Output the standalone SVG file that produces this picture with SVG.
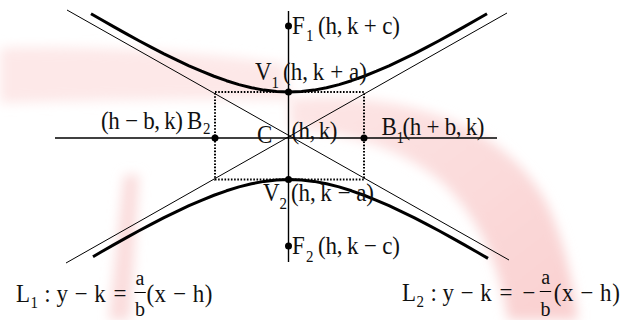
<svg xmlns="http://www.w3.org/2000/svg" width="633" height="320" viewBox="0 0 633 320">
  <defs>
    <filter id="soft" filterUnits="userSpaceOnUse" x="-50" y="-50" width="733" height="420">
      <feGaussianBlur stdDeviation="6"/>
    </filter>
    <linearGradient id="pinkGrad" x1="0" y1="0" x2="1" y2="1">
      <stop offset="0" stop-color="#fde6e6"/>
      <stop offset="1" stop-color="#f9d0d0"/>
    </linearGradient>
    <style>
      .thin { stroke: #000; stroke-width: 1; fill: none; }
      .axis { stroke: #000; stroke-width: 1.4; fill: none; }
      .curve { stroke: #000; stroke-width: 3; fill: none; stroke-linejoin: round; stroke-linecap: butt; }
      .box { stroke: #000; stroke-width: 2; fill: none; stroke-dasharray: 1.6 1.6; }
      .dot { fill: #000; }
      text { font-family: "Liberation Serif", "Times New Roman", serif; font-size: 23px; fill: #111; }
      .sub { font-size: 15px; }
      .frac { font-size: 20px; }
    </style>
  </defs>

  <rect width="633" height="320" fill="#ffffff"/>

  <!-- faint background watermark -->
  <g id="watermark" filter="url(#soft)">
    <path d="M0,48 C100,46 200,52 285,64 L290,100 C200,98 100,100 0,103 Z" fill="#fde8e8"/>
    <path d="M290,98 C400,92 500,120 545,200 C565,240 574,290 578,320 L508,320 C500,270 484,224 444,184 C404,148 345,132 290,128 Z" fill="url(#pinkGrad)"/>
    <path d="M124,175 L139,175 L130,320 L109,320 Z" fill="#fadcdc"/>
  </g>

  <g id="connectors">
    <line id="x-axis" class="axis" x1="55" y1="138" x2="497" y2="138"/>
    <line id="y-axis" class="axis" x1="288.5" y1="11" x2="288.5" y2="262"/>
    <line id="asymptote-L1" class="thin" x1="66" y1="263" x2="507" y2="13"/>
    <line id="asymptote-L2" class="thin" x1="67" y1="10" x2="509" y2="260"/>
    <rect id="central-box" class="box" x="215" y="92" width="149" height="87.5"/>
  </g>

  <g id="upper-branch">
    <path class="curve" d="M91,13.7 L101.5,19.8 L114,26.9 L126.5,33.9 L139,40.7 L151.5,47.35 L164,53.8 L176.5,59.9 L189,65.8 L201.5,71.2 L214,76.25 L226.5,80.7 L239,84.6 L251.5,87.75 L264,90.1 L276.5,91.5 L289,92 L301.5,91.5 L314,90.1 L326.5,87.75 L339,84.6 L351.5,80.7 L364,76.25 L376.5,71.2 L389,65.8 L401.5,59.9 L414,53.8 L426.5,47.35 L439,40.7 L451.5,33.9 L464,26.9 L476.5,19.8 L487,13.7"/>
  </g>
  <g id="lower-branch">
    <path class="curve" d="M93,256.7 L101.5,251.7 L114,244.6 L126.5,237.6 L139,230.8 L151.5,224.15 L164,217.7 L176.5,211.6 L189,205.7 L201.5,200.3 L214,195.25 L226.5,190.8 L239,186.9 L251.5,183.75 L264,181.4 L276.5,180 L289,179.5 L301.5,180 L314,181.4 L326.5,183.75 L339,186.9 L351.5,190.8 L364,195.25 L376.5,200.3 L389,205.7 L401.5,211.6 L414,217.7 L426.5,224.15 L439,230.8 L451.5,237.6 L464,244.6 L476.5,251.7 L488,258.4"/>
  </g>

  <g id="F1">
    <circle class="dot" cx="288.5" cy="26" r="3.5"/>
    <text transform="translate(292,34) scale(1,1.08)">F<tspan class="sub" x="14" y="6.5">1</tspan><tspan x="26" y="0" textLength="82" lengthAdjust="spacing">(h,&#8201;k + c)</tspan></text>
  </g>
  <g id="V1">
    <circle class="dot" cx="288.5" cy="92" r="3.5"/>
    <text transform="translate(255,79.5) scale(1,1.08)">V<tspan class="sub" x="16.5" y="7.5">1</tspan><tspan x="28" y="0" textLength="84" lengthAdjust="spacing">(h,&#8201;k + a)</tspan></text>
  </g>
  <g id="B2">
    <circle class="dot" cx="215" cy="138" r="3.5"/>
    <text transform="translate(101,128.5) scale(1,1.08)"><tspan textLength="82" lengthAdjust="spacing">(h − b,&#8201;k)</tspan><tspan x="86" y="0">B</tspan><tspan class="sub" x="102" y="5.5">2</tspan></text>
  </g>
  <g id="C">
    <text transform="translate(257,143) scale(1,1.08)">C</text>
    <text transform="translate(291.5,139) scale(1,1.08)" textLength="46" lengthAdjust="spacing">(h,&#8201;k)</text>
  </g>
  <g id="B1">
    <circle class="dot" cx="364" cy="138" r="3.5"/>
    <text transform="translate(381.5,135) scale(1,1.08)">B<tspan class="sub" x="15" y="7">1</tspan><tspan x="21" y="0" textLength="82" lengthAdjust="spacing">(h + b,&#8201;k)</tspan></text>
  </g>
  <g id="V2">
    <circle class="dot" cx="288.5" cy="179.5" r="3.5"/>
    <text transform="translate(263,201) scale(1,1.08)">V<tspan class="sub" x="16.5" y="7.5">2</tspan><tspan x="28" y="0" textLength="83" lengthAdjust="spacing">(h,&#8201;k − a)</tspan></text>
  </g>
  <g id="F2">
    <circle class="dot" cx="288.5" cy="246" r="3.5"/>
    <text transform="translate(292,254) scale(1,1.08)">F<tspan class="sub" x="14" y="7.5">2</tspan><tspan x="26" y="0" textLength="82" lengthAdjust="spacing">(h,&#8201;k − c)</tspan></text>
  </g>

  <g id="L1-label">
    <text transform="translate(16,302) scale(1,1.08)">L<tspan class="sub" x="14.5" y="5.5">1</tspan><tspan x="28.2 40.4 58.5 78.2 97.5" y="0">:y−k=</tspan><tspan x="130.4" y="0" textLength="66" lengthAdjust="spacing">(x − h)</tspan></text>
    <text class="frac" x="135.5" y="285">a</text>
    <line class="thin" x1="134.4" y1="292.5" x2="145.8" y2="292.5"/>
    <text class="frac" x="135" y="316">b</text>
  </g>
  <g id="L2-label">
    <text transform="translate(402,301) scale(1,1.08)">L<tspan class="sub" x="14.5" y="5.5">2</tspan><tspan x="28.4 40.4 58.5 78.2 97.5 120.3" y="0">:y−k=−</tspan><tspan x="151.8" y="0" textLength="66" lengthAdjust="spacing">(x − h)</tspan></text>
    <text class="frac" x="541.3" y="284">a</text>
    <line class="thin" x1="539.8" y1="291.5" x2="551.2" y2="291.5"/>
    <text class="frac" x="540.5" y="315.5">b</text>
  </g>
</svg>
